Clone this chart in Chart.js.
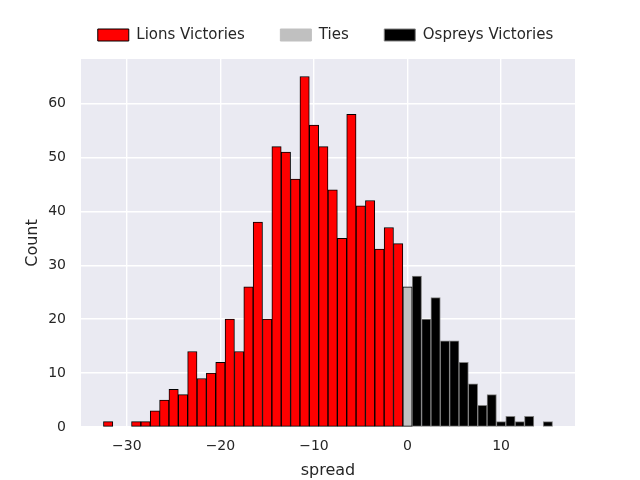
<!DOCTYPE html>
<html>
<head>
<meta charset="utf-8">
<script src="https://cdn.jsdelivr.net/npm/chart.js@4/dist/chart.umd.min.js"></script>
<style>
  html, body { margin: 0; padding: 0; background: #fff; }
  #wrap { width: 640px; height: 480px; }
</style>
</head>
<body>
<div id="wrap"><canvas id="spreadChart" width="640" height="480"></canvas></div>
<script>
// histogram of final spreads, one bin per point
const lionsSpread = [-32, -31, -30, -29, -28, -27, -26, -25, -24, -23, -22, -21, -20, -19, -18, -17,
  -16, -15, -14, -13, -12, -11, -10, -9, -8, -7, -6, -5, -4, -3, -2, -1]
const lionsCount = [1, 0, 0, 1, 1, 3, 5, 7, 6, 14, 9, 10, 12, 20, 14, 26,
  38, 20, 52, 51, 46, 65, 56, 52, 44, 35, 58, 41, 42, 33, 37, 34]

const tieSpread = [0]
const tieCount = [26]

const ospreysSpread = [1, 2, 3, 4, 5, 6, 7, 8, 9, 10, 11, 12, 13, 14, 15]
const ospreysCount = [28, 20, 24, 16, 16, 12, 8, 4, 6, 1, 2, 1, 2, 0, 1]

const xTicks = [-30, -20, -10, 0, 10]
const yTicks = [0, 10, 20, 30, 40, 50, 60]

const textColor = '#262626'
const font = 'DejaVu Sans'

// empty bins are not drawn
const toPoints = (xs, ys) => xs.map((x, i) => ({ x: x, y: ys[i] })).filter(p => p.y > 0)

// seaborn style grey panel behind the bars
const panelBackground = {
  id: 'panelBackground',
  beforeDraw: (chart) => {
    const a = chart.chartArea
    chart.ctx.save()
    chart.ctx.fillStyle = '#eaeaf2'
    chart.ctx.fillRect(a.left, a.top, a.right - a.left, a.bottom - a.top)
    chart.ctx.restore()
  }
}

//legend wants to wrap onto 2 rows and be too tall, so keep it on one row over the plot
const legendRow = {
  id: 'legendRow',
  afterInit: (chart) => {
    const legend = chart.legend
    if (!legend) return
    const origFit = legend.fit.bind(legend)
    const origDraw = legend.draw.bind(legend)
    legend.fit = function () {
      this.maxWidth = 2000
      origFit()
      this.height = 67
    }
    legend.draw = function () {
      const left = this.left, right = this.right
      // widen the box so nothing wraps, centre stays where matplotlib puts it
      this.left = 11
      this.right = 640
      origDraw()
      this.left = left
      this.right = right
    }
  }
}

const keepTicks = (list) => (scale) => {
  scale.ticks = list.map(v => ({ value: v }))
}

const ctx = document.getElementById('spreadChart')
const chart = new Chart(ctx, {
  type: 'bar',
  data: {
    datasets: [{
      label: 'Lions Victories',
      data: toPoints(lionsSpread, lionsCount),
      backgroundColor: '#ff0000',
      borderColor: '#000000',
      borderWidth: 1,
      borderSkipped: false
    }, {
      label: 'Ties',
      data: toPoints(tieSpread, tieCount),
      backgroundColor: '#c0c0c0',
      borderColor: '#000000',
      borderWidth: 1,
      borderSkipped: false
    }, {
      label: 'Ospreys Victories',
      data: toPoints(ospreysSpread, ospreysCount),
      backgroundColor: '#000000',
      borderColor: '#808080',
      borderWidth: 1,
      borderSkipped: false
    }]
  },
  options: {
    responsive: false,
    animation: false,
    devicePixelRatio: 1,
    grouped: false,
    barPercentage: 1,
    categoryPercentage: 1,
    layout: {
      padding: { left: 0, right: 65, top: -8, bottom: 0 }
    },
    plugins: {
      tooltip: { enabled: false },
      legend: {
        position: 'top',
        fullSize: false,
        labels: {
          boxWidth: 31,
          boxHeight: 12,
          padding: 35.5,
          color: textColor,
          font: { family: font, size: 15 },
          generateLabels: (chart) => {
            const items = Chart.defaults.plugins.legend.labels.generateLabels(chart)
            items.forEach(it => { it.lineWidth = 1 })
            items[1].strokeStyle = '#c0c0c0' // no outline on the ties patch
            return items
          }
        }
      }
    },
    scales: {
      x: {
        type: 'linear',
        offset: false,
        min: -34.9,
        max: 17.9,
        afterBuildTicks: keepTicks(xTicks),
        afterFit: (scale) => { scale.height = 53 },
        grid: { color: '#ffffff', lineWidth: 1.4, drawTicks: false, offset: false },
        border: { display: false },
        ticks: {
          padding: 11,
          color: textColor,
          font: { family: font, size: 14 },
          callback: (v) => String(v).replace('-', '\u2212')
        },
        title: {
          display: true,
          text: 'spread',
          color: textColor,
          font: { family: font, size: 16 },
          padding: { top: 0, bottom: 0 }
        }
      },
      y: {
        min: 0,
        max: 68.25,
        afterBuildTicks: keepTicks(yTicks),
        afterFit: (scale) => { scale.width = 81 },
        grid: { color: '#ffffff', lineWidth: 1.4, drawTicks: false },
        border: { display: false },
        ticks: {
          padding: 15,
          color: textColor,
          font: { family: font, size: 14 }
        },
        title: {
          display: true,
          text: 'Count',
          color: textColor,
          font: { family: font, size: 16 },
          padding: { top: 23, bottom: 0 }
        }
      }
    }
  },
  plugins: [panelBackground, legendRow]
})
</script>
</body>
</html>
